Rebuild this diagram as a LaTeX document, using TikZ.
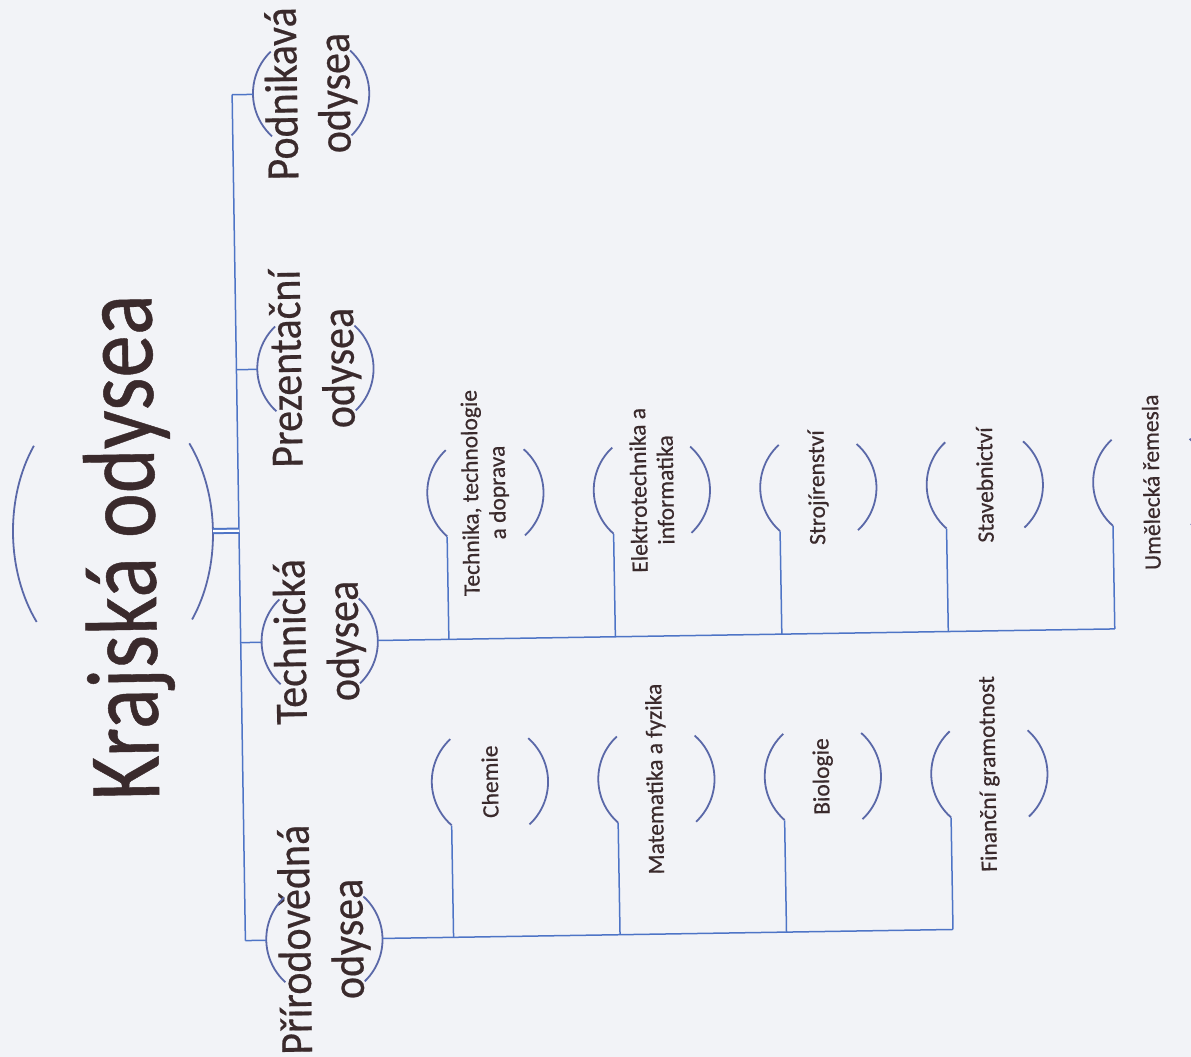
\documentclass[tikz,border=0pt]{standalone}
\usepackage{fontspec}
\setmainfont{Carlito}
\newfontfamily\scanfont{Carlito}[FakeBold=0.5]
\usetikzlibrary{shapes.geometric}
\definecolor{linec}{HTML}{4E74C6}
\definecolor{arcc}{HTML}{5A68A8}
\definecolor{txt}{HTML}{3A2A2C}
\definecolor{paper}{HTML}{F2F3F7}
\begin{document}
\begin{tikzpicture}[x=1pt,y=-1pt,
  conn/.style={draw=linec, line width=1.5pt},
  bubarc/.style={draw=arcc, line width=1.8pt},
  bub/.style={circle, minimum size=116pt, inner sep=0pt, draw=none},
  sbub/.style={circle, minimum size=116pt, inner sep=0pt, draw=none},
  lvlone/.style={rotate=90, yscale=1.1, text=txt, font=\scanfont\fontsize{42}{48}\selectfont, align=center, inner sep=0pt},
  lvltwo/.style={rotate=90, text=txt, font=\scanfont\fontsize{23.5}{27}\selectfont, align=center, inner sep=0pt},
  rootlab/.style={rotate=90, yscale=1.2, text=txt, font=\scanfont\fontsize{85}{90}\selectfont, inner sep=0pt}]
\useasboundingbox (0,0) rectangle (1191,1057);
\fill[paper] (0,0) rectangle (1191,1057);
\clip (0,0) rectangle (1191,1057);
\begin{scope}[rotate around={0.9:(600,530)}, transform shape]
% root
\node[ellipse, minimum width=200pt, minimum height=280pt, inner sep=0pt, draw=none] (root) at (113,525) {};
\node[rootlab, anchor=base] (rootT) at (155,540) {Krajská odysea};
\draw[bubarc] ([shift={(141:100pt and 140pt)}]root.center) arc[start angle=141, end angle=219, x radius=100pt, y radius=140pt];
\draw[bubarc] ([shift={(-39:100pt and 140pt)}]root.center) arc[start angle=-39, end angle=39, x radius=100pt, y radius=140pt];
% level one
\node[bub] (pod) at (318,89) {};
\node[bub] (prez) at (318,364) {};
\node[bub] (tech) at (318,637) {};
\node[bub] (pri) at (318,935) {};
\node[lvlone] (podT) at (pod) {Podnikavá\\odysea};
\node[lvlone] (prezT) at (prez) {Prezentační\\odysea};
\node[lvlone] (techT) at (tech) {Technická\\odysea};
\node[lvlone] (priT) at (pri) {Přírodovědná\\odysea};
\foreach \n in {pod,prez,tech,pri}{
  \draw[bubarc] (\n.133) arc[start angle=133, end angle=227, radius=58pt];
  \draw[bubarc] (\n.-47) arc[start angle=-47, end angle=47, radius=58pt];
}
% trunk
\coordinate (j1) at (239,89);
\coordinate (j2) at (239,364);
\coordinate (j0) at (239,525);
\coordinate (j3) at (239,637);
\coordinate (j4) at (239,935);
\draw[conn] (j1) -- (j4);
\draw[conn] (j1) -- (pod.west);
\draw[conn] (j2) -- (prez.west);
\draw[conn] (j3) -- (tech.west);
\draw[conn] (j4) -- (pri.west);
\draw[draw=linec, line width=2pt, double=white, double distance=2.2pt] (root.east) -- (j0);
% level two, technicka
\node[sbub] (c1) at (486,491) {};
\node[sbub] (c2) at (652.5,491) {};
\node[sbub] (c3) at (819,491) {};
\node[sbub] (c4) at (985.5,491) {};
\node[sbub] (c5) at (1152,491) {};
\node[lvltwo] (c1T) at (c1) {Technika, technologie\\a doprava};
\node[lvltwo] (c2T) at (c2) {Elektrotechnika a\\informatika};
\node[lvltwo] (c3T) at (c3) {Strojírenství};
\node[lvltwo] (c4T) at (c4) {Stavebnictví};
\node[lvltwo] (c5T) at (c5) {Umělecká řemesla};
\coordinate (k1) at (447.2,637);
\coordinate (k2) at (613.7,637);
\coordinate (k3) at (780.2,637);
\coordinate (k4) at (946.7,637);
\coordinate (k5) at (1113.2,637);
\draw[conn] (tech.east) -- (k5);
\foreach \i in {1,...,5}{\draw[conn] (k\i) -- (c\i.228);}
% level two, prirodovedna
\node[sbub] (d1) at (486,780) {};
\node[sbub] (d2) at (652.5,780) {};
\node[sbub] (d3) at (819,780) {};
\node[sbub] (d4) at (985.5,780) {};
\node[lvltwo] (d1T) at (d1) {Chemie};
\node[lvltwo] (d2T) at (d2) {Matematika a fyzika};
\node[lvltwo] (d3T) at (d3) {Biologie};
\node[lvltwo] (d4T) at (d4) {Finanční gramotnost};
\coordinate (m1) at (447.2,935);
\coordinate (m2) at (613.7,935);
\coordinate (m3) at (780.2,935);
\coordinate (m4) at (946.7,935);
\draw[conn] (pri.east) -- (m4);
\foreach \i in {1,...,4}{\draw[conn] (m\i) -- (d\i.228);}
\foreach \n in {c1,c2,c3,c4,c5,d1,d2,d3,d4}{
  \draw[bubarc] (\n.132) arc[start angle=132, end angle=228, radius=58pt];
  \draw[bubarc] (\n.-48) arc[start angle=-48, end angle=48, radius=58pt];
}
\end{scope}
\end{tikzpicture}
\end{document}
